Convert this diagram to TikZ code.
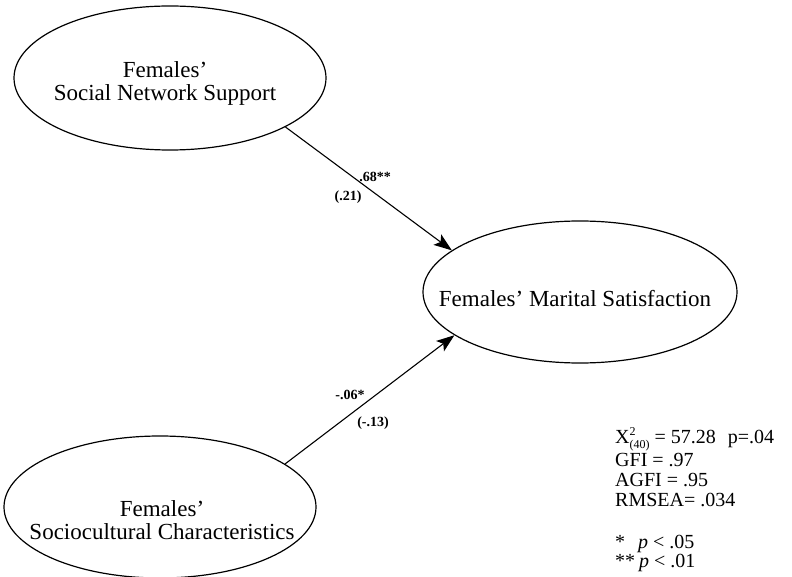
\documentclass[tikz,border=0pt]{standalone}
\usepackage{fontspec}
\setmainfont{Liberation Serif}
\usetikzlibrary{shapes.geometric,arrows.meta}
\begin{document}
\begin{tikzpicture}[x=1pt,y=-1pt,
  construct/.style={ellipse,draw,line width=1.2pt,inner sep=0pt},
  ctext/.style={align=center,font=\fontsize{23}{23}\selectfont,inner sep=0pt},
  effect/.style={draw,line width=1.1pt,-{Stealth[length=18pt,width=13pt,inset=4pt]}},
  coef/.style={font=\fontsize{14}{14}\selectfont\bfseries,inner sep=0pt},
  fitline/.style={anchor=base west,inner sep=0pt,font=\fontsize{20}{20}\selectfont}]
\useasboundingbox (0,0) rectangle (792,577);

% latent constructs
\node[construct,minimum width=312pt,minimum height=144pt] (sns) at (170,78) {};
\node[construct,minimum width=312pt,minimum height=142pt] (soc) at (160,507) {};
\node[construct,minimum width=314pt,minimum height=142pt] (ms) at (580,292) {};

\node[ctext] (snsT) at (165,83) {Females’\\Social Network Support};
\node[ctext] (socT) at (162,520) {Females’\\Sociocultural Characteristics};
\node[ctext] (msT) at (575,299) {Females’ Marital Satisfaction};

% structural paths
\draw[effect] (sns.-23.5) -- (ms.162.6);
\draw[effect] (soc.19.5) -- (ms.-161.6);

% path coefficients
\node[coef] (c1) at (375,177) {.68**};
\node[coef] (c1se) at (348,197) {(.21)};
\node[coef] (c2) at (350,395) {-.06*};
\node[coef] (c2se) at (373,423) {(-.13)};

% fit indices and significance legend
\node[fitline] (f1) at (615,443) {X\rlap{\raisebox{8pt}{\fontsize{12}{12}\selectfont 2}}\raisebox{-5pt}{\fontsize{12}{12}\selectfont (40)} = 57.28\hspace{12pt}p=.04};
\node[fitline] (f2) at (615,466) {GFI = .97};
\node[fitline] (f3) at (615,486) {AGFI = .95};
\node[fitline] (f4) at (615,506) {RMSEA= .034};
\node[fitline] (f5) at (615,548) {*\hspace{13pt}\textit{p} < .05};
\node[fitline] (f6) at (615,567) {**\hspace{4pt}\textit{p} < .01};
\end{tikzpicture}
\end{document}
